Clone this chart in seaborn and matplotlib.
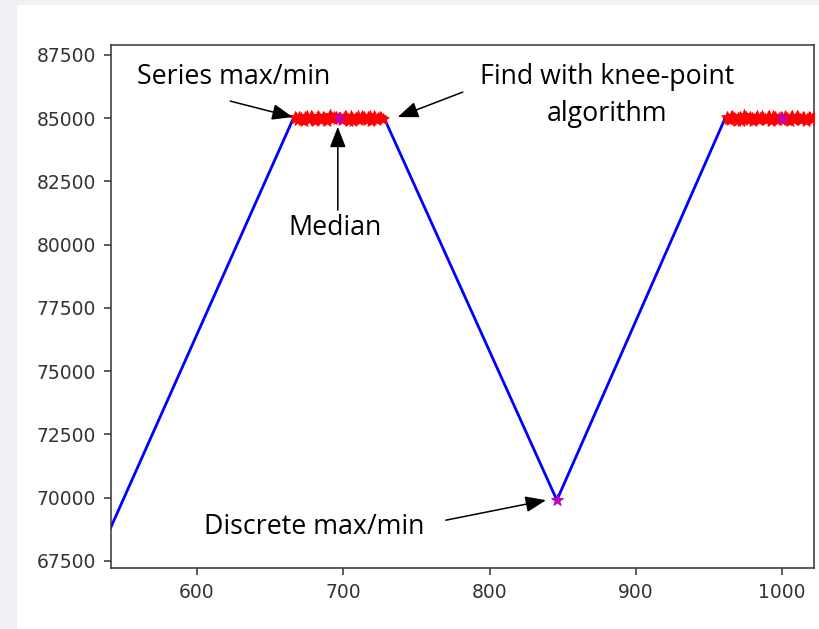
import matplotlib
matplotlib.use("Agg")
import matplotlib.pyplot as plt
from matplotlib.patches import Rectangle
import pandas as pd
import seaborn as sns

# Ramp/turning vertices of the signal (x, value)
ramp_x = [540, 666, 728, 846, 961]
ramp_y = [68670, 85000, 85000, 69900, 85000]

# Noisy flat tops (saturated segments), one sample per x
top1_x = list(range(667, 728))
top1_y = [85060, 84990, 84920, 85050, 85020, 84940, 84890, 85030, 85100, 84980,
          84960, 85070, 85040, 84910, 84900, 85010, 85080, 84950, 84940, 85060,
          85000, 84930, 84870, 85040, 85110, 84990, 84980, 85060, 85030, 84950,
          85000, 85020, 84910, 84980, 85070, 85040, 84950, 84880, 85090, 85010,
          84880, 84950, 85020, 85080, 84930, 84990, 85100, 85030, 84970, 84920,
          85050, 85080, 84900, 84960, 85080, 85020, 84940, 84990, 85040, 85010,
          84980]
top2_x = list(range(962, 1026))
top2_y = [85040, 84980, 84920, 85030, 85090, 85010, 84950, 84900, 85020, 85060,
          84880, 84950, 85110, 85030, 84970, 84920, 85060, 85000, 84900, 84960,
          85010, 85070, 84930, 84990, 85080, 85020, 84960, 84910, 85050, 85090,
          84890, 84950, 85100, 85030, 84980, 84920, 85000, 85060, 84920, 84980,
          85070, 85010, 84940, 84890, 85030, 85080, 84910, 84960, 85090, 85040,
          84970, 84930, 85040, 85000, 84900, 84950, 85060, 85010, 84950, 84990,
          85020, 85060, 84930, 84980]

# Median of each flat top and the discrete extreme
median_x = [697, 1000]
median_y = [85000, 85000]
discrete_x = [846]
discrete_y = [69900]

xticks = [600, 700, 800, 900, 1000]
yticks = [67500, 70000, 72500, 75000, 77500, 80000, 82500, 85000, 87500]

sns.set_style("ticks")
plt.rcParams["font.family"] = ["DejaVu Sans"]

fig = plt.figure(figsize=(8.19, 6.29), dpi=100, facecolor="#eff1f7")
fig.add_artist(Rectangle((17 / 819, 0), 1, 1 - 5 / 629, transform=fig.transFigure,
                         facecolor="white", edgecolor="none", zorder=0))
ax = fig.add_axes([0.1355, 0.097, 0.8584, 0.8315])
ax.set_facecolor("white")

# assemble the full series in x order
line_x = ramp_x[:2] + top1_x + ramp_x[2:5] + top2_x
line_y = ramp_y[:2] + top1_y + ramp_y[2:5] + top2_y
df = pd.DataFrame({"x": line_x, "y": line_y})
sns.lineplot(data=df, x="x", y="y", color="blue", linewidth=2.0, sort=False,
             estimator=None, ax=ax, zorder=2)

tops = pd.DataFrame({"x": top1_x + top2_x, "y": top1_y + top2_y})
sns.scatterplot(data=tops, x="x", y="y", marker="*", s=70, color="red",
                edgecolor="red", linewidth=0.8, ax=ax, zorder=3)
sns.scatterplot(x=median_x, y=median_y, marker="*", s=75, color="#c000c0",
                edgecolor="#c000c0", linewidth=0.8, ax=ax, zorder=4)
sns.scatterplot(x=discrete_x, y=discrete_y, marker="*", s=75, color="#c000c0",
                edgecolor="#c000c0", linewidth=0.8, ax=ax, zorder=4)

ax.set_xlim(541.3, 1021.7)
ax.set_ylim(67220, 87890)
ax.set_xticks(xticks)
ax.set_yticks(yticks)
ax.set_xlabel("")
ax.set_ylabel("")
ax.tick_params(axis="both", labelsize=13.5, length=5, width=1.1, pad=6,
               color="#333333", labelcolor="#333333")
for sp in ax.spines.values():
    sp.set_visible(True)
    sp.set_linewidth(1.1)
    sp.set_color("#333333")

tfont = dict(family=["Open Sans", "DejaVu Sans"], fontsize=19.3, color="black")
arrow = dict(arrowstyle="-|>,head_length=0.9,head_width=0.35", color="black",
             lw=1.1, shrinkA=0, shrinkB=0, mutation_scale=14)

ax.text(624.9, 86621, "Series max/min", ha="center", va="center", **tfont)
ax.annotate("", xy=(665.5, 85040), xytext=(622.8, 85672), arrowprops=arrow)

ax.text(880.3, 85900, "Find with knee-point\nalgorithm", ha="center", va="center",
        linespacing=1.45, **tfont)
ax.annotate("", xy=(737.2, 85040), xytext=(781.7, 86028), arrowprops=arrow)

ax.text(694.7, 80652, "Median", ha="center", va="center", **tfont)
ax.annotate("", xy=(696.3, 84656), xytext=(696.3, 81363), arrowprops=arrow)

ax.text(680.3, 68832, "Discrete max/min", ha="center", va="center", **tfont)
ax.annotate("", xy=(838.6, 69900), xytext=(770.1, 69109), arrowprops=arrow)

fig.savefig("out.png", dpi=100, facecolor=fig.get_facecolor())
